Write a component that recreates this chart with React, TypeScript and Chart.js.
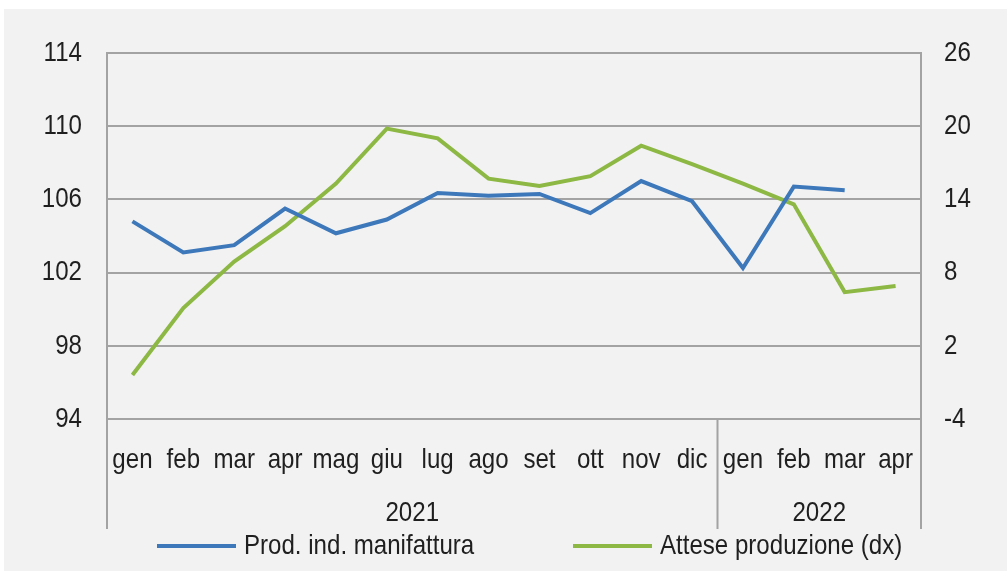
import React, { useEffect, useRef } from "react";
import { Chart, registerables } from "chart.js";

Chart.register(...registerables);

const categories = ["gen", "feb", "mar", "apr", "mag", "giu", "lug", "ago", "set", "ott", "nov", "dic", "gen", "feb", "mar", "apr"];
const years = ["2021", "2022"];
const yearSpans = [12, 4];

const prodInd: (number | null)[] = [104.8, 103.1, 103.5, 105.5, 104.15, 104.9, 106.35, 106.2, 106.3, 105.25, 107.0, 105.9, 102.25, 106.7, 106.5, null];
const atteseProd: number[] = [-0.4, 5.1, 8.9, 11.8, 15.3, 19.8, 19.0, 15.7, 15.1, 15.9, 18.4, 16.9, 15.3, 13.6, 6.4, 6.9];

const leftTicks = { min: 94, max: 114, step: 4 };
const rightTicks = { min: -4, max: 26, step: 6 };

const seriesLabels = ["Prod. ind. manifattura", "Attese produzione (dx)"];
const seriesColors = ["#3d78bb", "#8cb843"];

const FONT = "'Liberation Sans', Arial, sans-serif";
const FONT_SIZE = 28;
const SQUEEZE = 0.86;
const TEXT = "#1f1f1f";
const GRID = "#a3a3a3";

function narrowText(ctx: CanvasRenderingContext2D, text: string, x: number, y: number, align: CanvasTextAlign) {
  ctx.save();
  ctx.translate(x, y);
  ctx.scale(SQUEEZE, 1);
  ctx.font = `${FONT_SIZE}px ${FONT}`;
  ctx.fillStyle = TEXT;
  ctx.textAlign = align;
  ctx.textBaseline = "middle";
  ctx.fillText(text, 0, 0);
  ctx.restore();
}

const decorPlugin = {
  id: "decor",
  beforeDraw(chart: any) {
    const ctx = chart.ctx;
    ctx.save();
    ctx.fillStyle = "#ffffff";
    ctx.fillRect(0, 0, chart.width, chart.height);
    ctx.fillStyle = "#f2f2f2";
    ctx.fillRect(4, 9, chart.width - 4, chart.height - 9);
    ctx.restore();
  },
  afterDraw(chart: any) {
    const ctx = chart.ctx;
    const area = chart.chartArea;
    const xs = chart.scales.x;
    const yl = chart.scales.y;
    const yr = chart.scales.y1;
    const bottom = 529;
    ctx.save();
    ctx.strokeStyle = GRID;
    ctx.lineWidth = 2;
    const verts: number[] = [area.left];
    let idx = 0;
    yearSpans.forEach((n) => {
      idx += n;
      if (idx < categories.length) {
        verts.push((xs.getPixelForValue(idx - 1) + xs.getPixelForValue(idx)) / 2);
      }
    });
    verts.push(area.right);
    verts.forEach((x, i) => {
      ctx.beginPath();
      const top = i === 0 || i === verts.length - 1 ? area.top : area.bottom;
      ctx.moveTo(x, top);
      ctx.lineTo(x, bottom);
      ctx.stroke();
    });
    ctx.restore();

    yl.ticks.forEach((t: any, i: number) => {
      narrowText(ctx, String(t.value), area.left - 25, yl.getPixelForTick(i), "right");
    });
    yr.ticks.forEach((t: any, i: number) => {
      narrowText(ctx, String(t.value), area.right + 23, yr.getPixelForTick(i), "left");
    });
    xs.ticks.forEach((t: any, i: number) => {
      narrowText(ctx, categories[i], xs.getPixelForTick(i), 460, "center");
    });

    let start = 0;
    years.forEach((y, i) => {
      const end = start + yearSpans[i] - 1;
      const cx = (xs.getPixelForValue(start) + xs.getPixelForValue(end)) / 2;
      narrowText(ctx, y, cx, 513, "center");
      start = end + 1;
    });

    const legendX = [157, 573];
    const ly = 546;
    seriesLabels.forEach((lab, i) => {
      ctx.save();
      ctx.strokeStyle = seriesColors[i];
      ctx.lineWidth = 4;
      ctx.beginPath();
      ctx.moveTo(legendX[i], ly);
      ctx.lineTo(legendX[i] + 79, ly);
      ctx.stroke();
      ctx.restore();
      narrowText(ctx, lab, legendX[i] + 87, ly, "left");
    });
  },
};

export default function App() {
  const ref = useRef<HTMLCanvasElement | null>(null);
  useEffect(() => {
    if (!ref.current) return;
    const chart = new Chart(ref.current, {
      type: "line",
      data: {
        labels: categories,
        datasets: [
          {
            label: seriesLabels[0],
            data: prodInd,
            borderColor: seriesColors[0],
            backgroundColor: seriesColors[0],
            borderWidth: 4,
            pointRadius: 0,
            tension: 0,
            yAxisID: "y",
            spanGaps: false,
          },
          {
            label: seriesLabels[1],
            data: atteseProd,
            borderColor: seriesColors[1],
            backgroundColor: seriesColors[1],
            borderWidth: 4,
            pointRadius: 0,
            tension: 0,
            yAxisID: "y1",
          },
        ],
      },
      options: {
        responsive: false,
        animation: false,
        layout: { padding: { left: 0, right: 0, top: 53, bottom: 0 } },
        plugins: { legend: { display: false }, tooltip: { enabled: false } },
        scales: {
          x: {
            offset: true,
            grid: { display: false, drawTicks: false },
            border: { display: false },
            ticks: { display: false, autoSkip: false, maxRotation: 0 },
            afterFit: (s: any) => { s.height = 152; },
          },
          y: {
            position: "left",
            min: leftTicks.min,
            max: leftTicks.max,
            ticks: { stepSize: leftTicks.step, display: false },
            grid: { color: GRID, lineWidth: 2, drawTicks: false },
            border: { display: true, color: GRID, width: 2 },
            afterFit: (s: any) => { s.width = 107; },
          },
          y1: {
            position: "right",
            min: rightTicks.min,
            max: rightTicks.max,
            ticks: { stepSize: rightTicks.step, display: false },
            grid: { display: false, drawTicks: false },
            border: { display: true, color: GRID, width: 2 },
            afterFit: (s: any) => { s.width = 86; },
          },
        },
      },
      plugins: [decorPlugin],
    });
    return () => chart.destroy();
  }, []);
  return (
    <div style={{ position: "absolute", left: 0, top: 0, width: 1007, height: 571 }}>
      <canvas ref={ref} width={1007} height={571} style={{ display: "block" }} />
    </div>
  );
}
